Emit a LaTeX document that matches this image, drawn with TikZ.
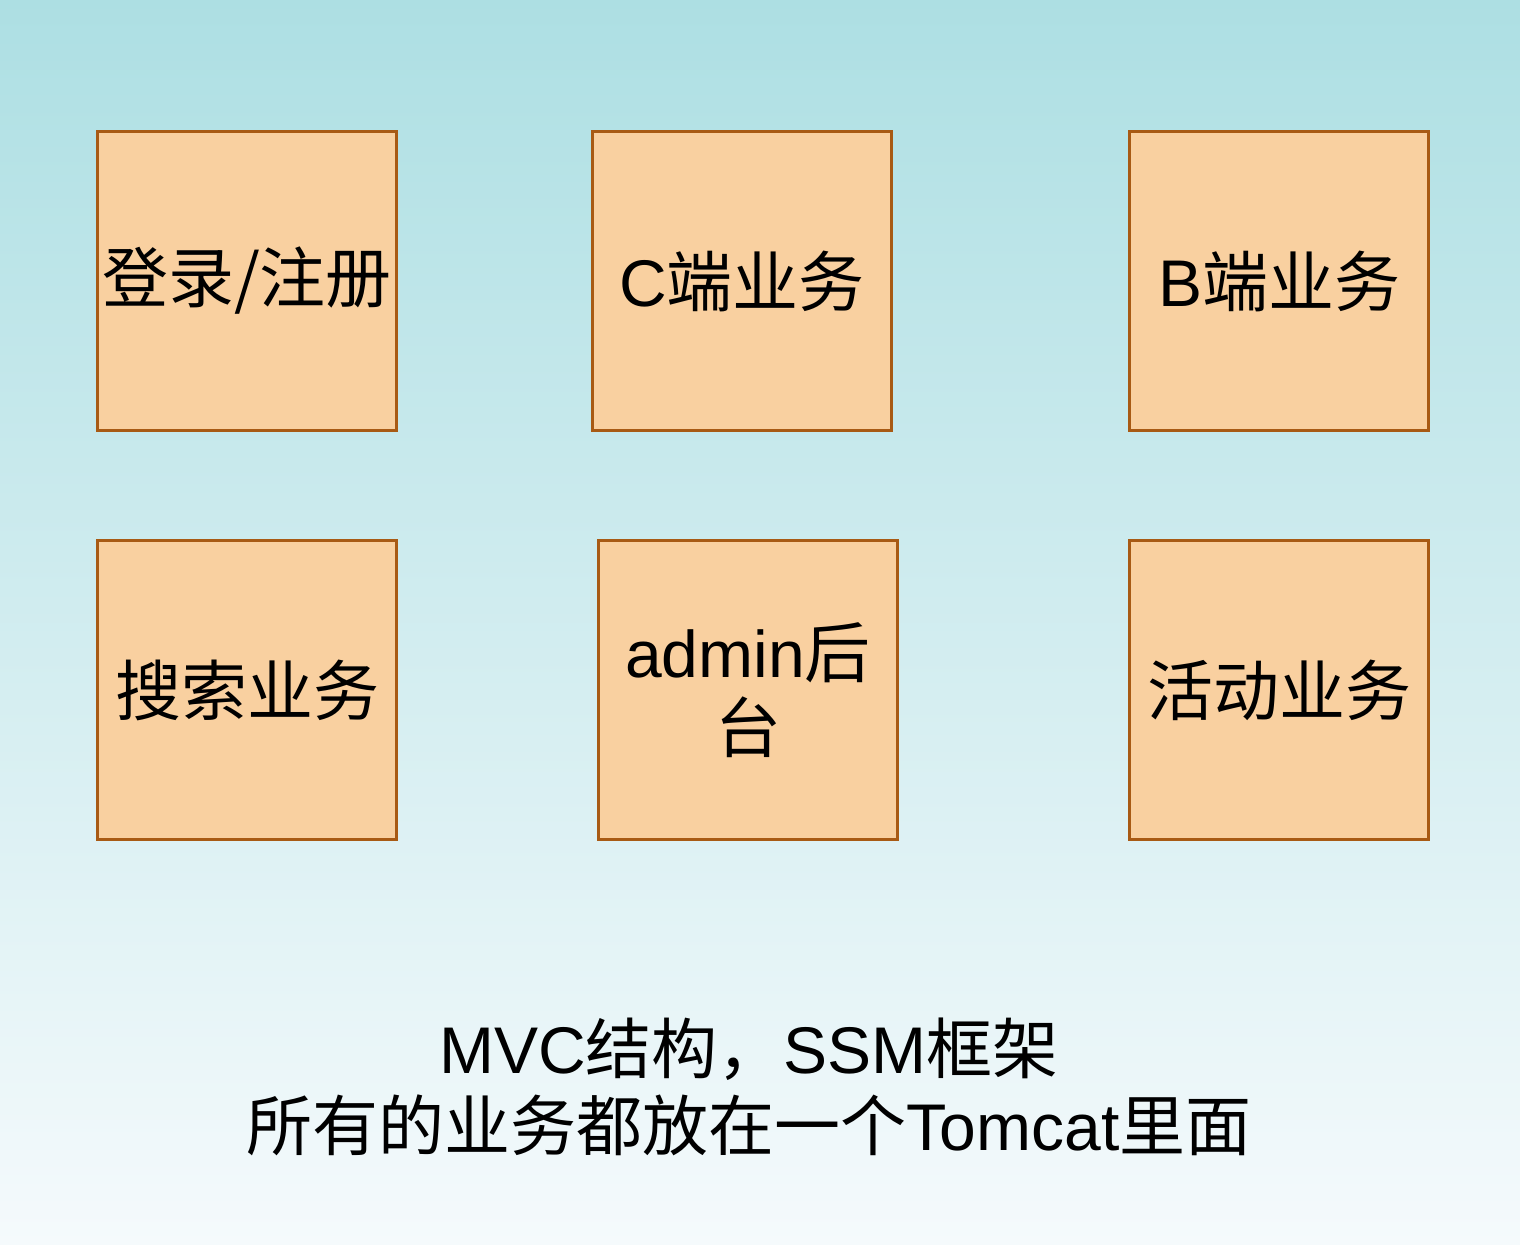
\documentclass[tikz,border=0pt]{standalone}
\usepackage{fontspec}
\setmainfont{Liberation Sans}
\newfontfamily\cjk{Noto Sans CJK SC}
\usepackage{xcolor}
\usepackage{tikz}
\usetikzlibrary{positioning}

\definecolor{boxfill}{HTML}{F9D0A0}
\definecolor{boxline}{HTML}{A85A14}
\definecolor{bgtop}{HTML}{ADDFE3}
\definecolor{bgbottom}{HTML}{F5FAFC}

\begin{document}
\begin{tikzpicture}[
    x=0.5pt, y=-0.5pt,
    module/.style={rectangle, draw=boxline, fill=boxfill, line width=1.75pt, minimum size=149.5pt, inner sep=0pt, align=center, font=\fontsize{33}{37.5}\selectfont},
    note/.style={align=center, font=\fontsize{33}{38.5}\selectfont},
]

% background
\shade[top color=bgtop, bottom color=bgbottom] (0,0) rectangle (1520,1244);
\useasboundingbox (0,0) rectangle (1520,1244);

% first row
\node[module] (login) at (247,281) {{\cjk 登录/注册}};
\node[module] (cside) at (742,281) {C{\cjk 端业务}};
\node[module] (bside) at (1279,281) {B{\cjk 端业务}};

% second row
\node[module] (search) at (247,690) {{\cjk 搜索业务}};
\node[module] (admin) at (748,690) {admin{\cjk 后}\\{\cjk 台}};
\node[module] (event) at (1279,690) {{\cjk 活动业务}};

% caption
\node[note] (caption) at (749,1087) {MVC{\cjk 结构，}SSM{\cjk 框架}\\{\cjk 所有的业务都放在一个}Tomcat{\cjk 里面}};

\end{tikzpicture}
\end{document}
